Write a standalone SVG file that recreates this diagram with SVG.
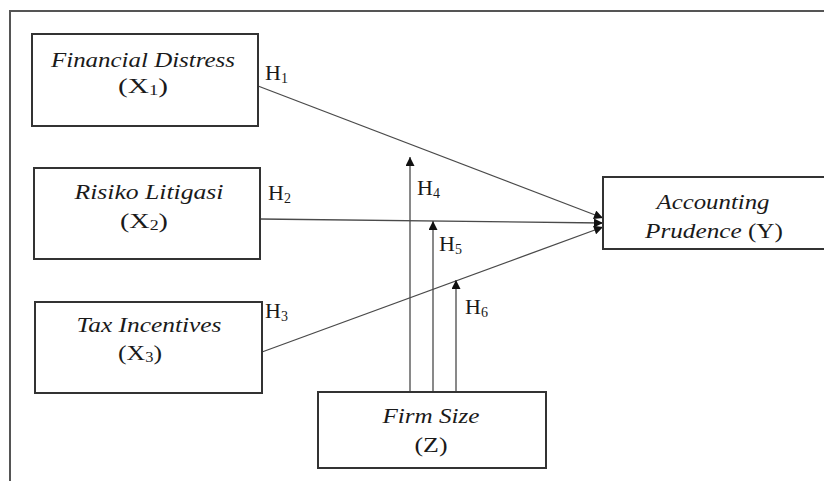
<svg xmlns="http://www.w3.org/2000/svg" width="824" height="481" viewBox="0 0 824 481">
<style>
.box{fill:#fff;stroke:#333;stroke-width:2}
.frame{fill:none;stroke:#555;stroke-width:2}
.t{font-size:22px;fill:#1a1a1a;text-anchor:middle}
.i{font-style:italic}
.h{font-size:22px;fill:#1a1a1a}
.sub{font-size:14px}
.ln{stroke:#4a4a4a;stroke-width:1.3;fill:none}
</style>
<defs>
<marker id="ah" viewBox="0 0 10 10" refX="10" refY="5" markerWidth="10" markerHeight="9" markerUnits="userSpaceOnUse" orient="auto">
<path d="M0,0 L10,5 L0,10 z" fill="#111"/>
</marker>
</defs>
<rect width="824" height="481" fill="#fff"/>
<path class="frame" d="M10,481 V11 H824"/>

<g id="connectors" font-family="Liberation Serif, Times New Roman, serif">
<line class="ln" x1="258" y1="86" x2="603" y2="218" marker-end="url(#ah)"/>
<line class="ln" x1="260" y1="219" x2="603" y2="223" marker-end="url(#ah)"/>
<line class="ln" x1="262" y1="352" x2="603" y2="227" marker-end="url(#ah)"/>
<line class="ln" x1="410" y1="392" x2="410" y2="157" marker-end="url(#ah)"/>
<line class="ln" x1="433" y1="392" x2="433" y2="221" marker-end="url(#ah)"/>
<line class="ln" x1="456" y1="392" x2="456" y2="280" marker-end="url(#ah)"/>
<text class="h" x="265" y="80">H<tspan class="sub" dy="3">1</tspan></text>
<text class="h" x="268" y="200">H<tspan class="sub" dy="3">2</tspan></text>
<text class="h" x="265" y="318">H<tspan class="sub" dy="3">3</tspan></text>
<text class="h" x="417" y="195">H<tspan class="sub" dy="3">4</tspan></text>
<text class="h" x="439" y="251">H<tspan class="sub" dy="3">5</tspan></text>
<text class="h" x="465" y="314">H<tspan class="sub" dy="3">6</tspan></text>
</g>

<g id="x1" font-family="Liberation Serif, Times New Roman, serif">
<rect class="box" x="32" y="34" width="226" height="92"/>
<text class="t i" x="143" y="67" textLength="184" lengthAdjust="spacingAndGlyphs">Financial Distress</text>
<text class="t" x="143" y="93" textLength="50" lengthAdjust="spacingAndGlyphs">(X<tspan class="sub" dy="2">1</tspan><tspan dy="-2">)</tspan></text>
</g>

<g id="x2" font-family="Liberation Serif, Times New Roman, serif">
<rect class="box" x="34" y="168" width="226" height="91"/>
<text class="t i" x="149" y="199" textLength="149" lengthAdjust="spacingAndGlyphs">Risiko Litigasi</text>
<text class="t" x="144" y="228" textLength="48" lengthAdjust="spacingAndGlyphs">(X<tspan class="sub" dy="2">2</tspan><tspan dy="-2">)</tspan></text>
</g>

<g id="x3" font-family="Liberation Serif, Times New Roman, serif">
<rect class="box" x="35" y="302" width="227" height="91"/>
<text class="t i" x="149" y="332" textLength="145" lengthAdjust="spacingAndGlyphs">Tax Incentives</text>
<text class="t" x="140" y="360" textLength="44" lengthAdjust="spacingAndGlyphs">(X<tspan class="sub" dy="2">3</tspan><tspan dy="-2">)</tspan></text>
</g>

<g id="y" font-family="Liberation Serif, Times New Roman, serif">
<rect class="box" x="603" y="177" width="230" height="72"/>
<text class="t i" x="713" y="209" textLength="113" lengthAdjust="spacingAndGlyphs">Accounting</text>
<text class="t" x="714" y="238" textLength="138" lengthAdjust="spacingAndGlyphs"><tspan class="i">Prudence</tspan> (Y)</text>
</g>

<g id="z" font-family="Liberation Serif, Times New Roman, serif">
<rect class="box" x="318" y="392" width="228" height="76"/>
<text class="t i" x="431" y="423" textLength="97" lengthAdjust="spacingAndGlyphs">Firm Size</text>
<text class="t" x="431" y="452" textLength="33" lengthAdjust="spacingAndGlyphs">(Z)</text>
</g>
</svg>
